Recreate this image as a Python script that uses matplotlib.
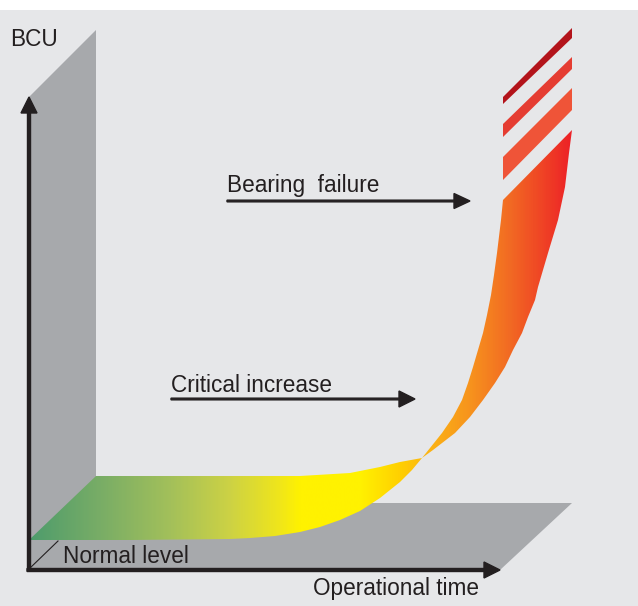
import numpy as np
import matplotlib
matplotlib.use('Agg')
from matplotlib import pyplot as plt
from matplotlib.patches import Polygon
from matplotlib.colors import LinearSegmentedColormap

# Ribbon edges (time, BCU), origin at the axes corner
time_front = [0, 101, 201, 221, 246, 271, 291, 311, 331, 351, 371, 383, 393, 413,
              424, 433, 439, 444, 449, 454, 458, 462, 465, 468, 472, 474]
bcu_front = [30, 30, 31, 32, 34, 38, 43, 50, 59, 72, 88, 100, 112, 137,
             153, 170, 187, 203, 220, 237, 255, 275, 295, 317, 350, 370]
time_back = [67, 201, 271, 321, 351, 371, 393, 404, 426, 441, 454, 466, 476, 484,
             493, 499, 506, 509, 519, 529, 536, 540, 543]
bcu_back = [94, 94, 94, 97, 103, 108, 112, 120, 137, 153, 170, 187, 203, 220,
            237, 253, 270, 283, 317, 350, 383, 417, 440]

# broken top of the curve (three stripes)
stripe_left_lo = [390, 433, 466]
stripe_left_hi = [413, 446, 473]
stripe_right_lo = [460, 501, 532]
stripe_right_hi = [482, 513, 542]
stripe_colors = ['#ef5438', '#e53d32', '#b3141b']

# colour along operational time
grad_pos = [0, 71, 141, 201, 251, 271, 331, 371, 396, 441, 481, 543]
grad_col = ['#4e9c6c', '#79ad66', '#a3c05a', '#cdd244', '#f0e61a', '#fff200',
            '#fff200', '#ffd000', '#fcb813', '#f7941d', '#f26b23', '#ed2227']

T_MAX = 471      # end of time axis
B_MAX = 473      # end of BCU axis
DX, DY = 67, 67  # depth offset of the 3d box
FLOOR_DX = 72

BG = '#e6e7e9'
PANEL = '#a7a9ac'
INK = '#231f20'

plt.rcParams['font.family'] = ['Liberation Sans', 'DejaVu Sans']

fig = plt.figure(figsize=(6.38, 6.06), dpi=100, facecolor='white')
ax = fig.add_axes([0, 0, 1, 596 / 606])
ax.set_facecolor(BG)

# wall + floor
panel = [(0, B_MAX), (DX, B_MAX + DY), (DX, DY), (T_MAX + FLOOR_DX, DY),
         (T_MAX, 0), (0, 0)]
ax.add_patch(Polygon(panel, closed=True, facecolor=PANEL, edgecolor='none', zorder=1))

# ribbon with gradient
ribbon = list(zip(time_front, bcu_front)) + list(zip(time_back[::-1], bcu_back[::-1]))
clip = Polygon(ribbon, closed=True, facecolor='none', edgecolor='none')
ax.add_patch(clip)
t0, t1 = grad_pos[0], grad_pos[-1]
cmap = LinearSegmentedColormap.from_list(
    'bcu', [((p - t0) / (t1 - t0), c) for p, c in zip(grad_pos, grad_col)])
grad = np.linspace(0, 1, 600).reshape(1, -1)
im = ax.imshow(grad, extent=(t0, t1, min(bcu_front), max(bcu_back)),
               aspect='auto', cmap=cmap, origin='lower', zorder=2,
               interpolation='bilinear')
im.set_clip_path(clip)

# stripes
tl, tr = time_front[-1], time_back[-1]
for lo, hi, rlo, rhi, c in zip(stripe_left_lo, stripe_left_hi,
                                stripe_right_lo, stripe_right_hi, stripe_colors):
    ax.add_patch(Polygon([(tl, lo), (tr, rlo), (tr, rhi), (tl, hi)], closed=True,
                         facecolor=c, edgecolor='none', zorder=2))

# axes arrows
ax.arrow(0, -1, 0, B_MAX + 1, width=3, head_width=16, head_length=16,
         length_includes_head=True, color=INK, zorder=4)
ax.arrow(-2, 0, T_MAX + 2, 0, width=3, head_width=16, head_length=16,
         length_includes_head=True, color=INK, zorder=4)
ax.plot([0, 29], [1, 29], color=INK, lw=0.8, zorder=4)

# labels
fs = 16.3
ax.text(-19, 524, 'BCU', fontsize=fs, color=INK, va='baseline')
ax.text(198, 378, 'Bearing  failure', fontsize=fs, color=INK, va='baseline')
ax.arrow(198, 369, 243, 0, width=1.7, head_width=15, head_length=16,
         length_includes_head=True, color=INK, zorder=4)
ax.text(142, 178, 'Critical increase', fontsize=fs, color=INK, va='baseline')
ax.arrow(142, 171, 244, 0, width=1.7, head_width=16, head_length=16,
         length_includes_head=True, color=INK, zorder=4)
ax.text(34, 7, 'Normal level', fontsize=fs, color=INK, va='baseline', zorder=5)
ax.text(284, -25, 'Operational time', fontsize=fs, color=INK, va='baseline')

ax.set_xlim(-29, 609)
ax.set_ylim(-36, 560)
ax.set_xticks([])
ax.set_yticks([])
for s in ax.spines.values():
    s.set_visible(False)

fig.savefig('out.png', dpi=100, facecolor='white')
